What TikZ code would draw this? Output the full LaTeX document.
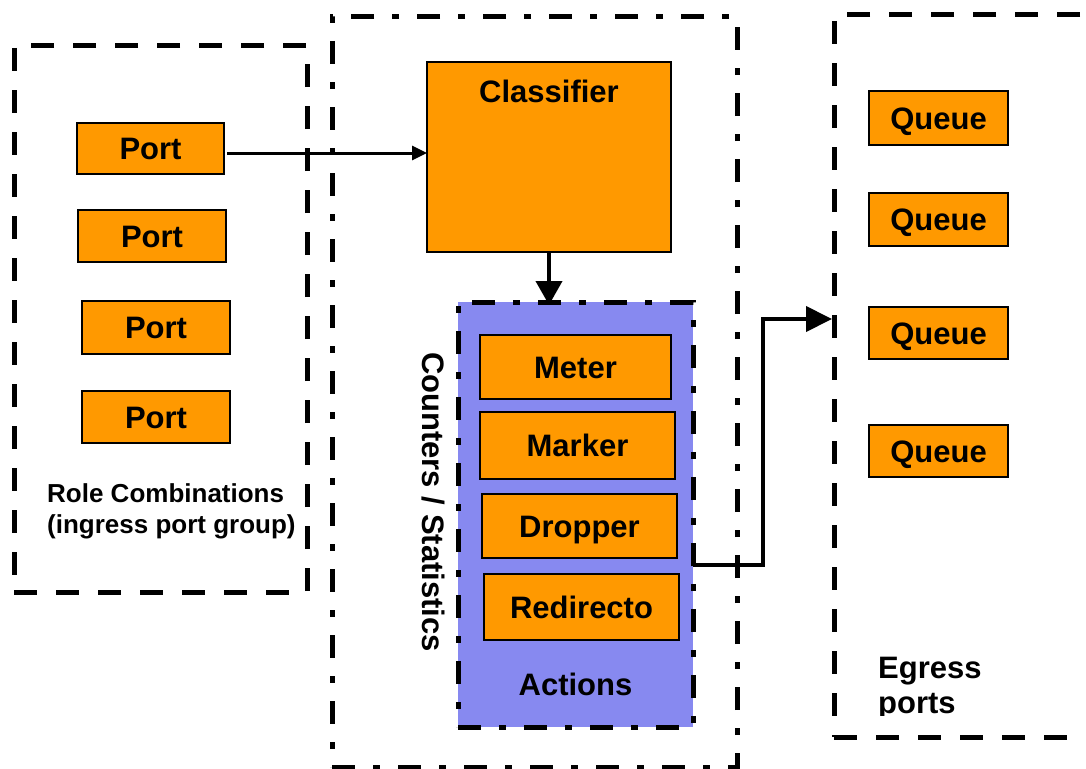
\documentclass[tikz,border=0pt]{standalone}
\usepackage{fontspec}
\setmainfont{Liberation Sans}
\usetikzlibrary{arrows.meta}
\definecolor{boxorange}{RGB}{255,153,0}
\definecolor{actblue}{RGB}{135,137,240}
\begin{document}
\begin{tikzpicture}[x=1pt,y=-1pt,
  box/.style={draw=black, fill=boxorange, line width=1.5pt, inner sep=0pt, outer sep=0pt,
    font=\bfseries\fontsize{31}{36}\selectfont, text height=22.5pt, text depth=0pt},
  dashframe/.style={draw=black, line width=5pt, dash pattern=on 23pt off 19pt,
    inner sep=0pt, outer sep=0pt},
  dotframe/.style={draw=black, line width=5pt, dash pattern=on 23pt off 18pt on 7pt off 18pt,
    inner sep=0pt, outer sep=0pt},
  lbl/.style={font=\bfseries\fontsize{31}{36}\selectfont, inner sep=0pt},
  smalllbl/.style={font=\bfseries\fontsize{26}{31}\selectfont, inner sep=0pt, align=left},
  thinarrow/.style={line width=3pt, -{Triangle[length=15pt,width=14pt]}},
  bigarrow/.style={line width=4pt, -{Triangle[length=24pt,width=26pt]}}]
\useasboundingbox (0,0) rectangle (1086,768);
\clip (0,0) rectangle (1086,768);

% frames
\node[dotframe, minimum width=405pt, minimum height=750pt] (mid) at (534.5,392) {};
\node[dashframe, minimum width=293pt, minimum height=546pt] (ingress) at (160.5,319) {};
\node[dashframe, minimum width=266pt, minimum height=722pt] (egress) at (967,376) {};

% ports
\node[box, minimum width=147pt, minimum height=51pt] (port1) at (150.5,148.5) {Port};
\node[box, minimum width=148pt, minimum height=52pt] (port2) at (152,236) {Port};
\node[box, minimum width=148pt, minimum height=53pt] (port3) at (156,327.5) {Port};
\node[box, minimum width=148pt, minimum height=52pt] (port4) at (156,417) {Port};
\node[smalllbl, anchor=base west] (rolelbl) at (47,533) {Role Combinations\\(ingress port group)};

% classifier
\node[box, minimum width=244pt, minimum height=190pt,
  label={[lbl, name=classlbl, anchor=base, yshift=-40pt]north:Classifier}] (classifier) at (549,157) {};

% actions
\node[dotframe, fill=actblue, minimum width=235pt, minimum height=425pt,
  label={[lbl, name=actlbl, anchor=base, yshift=32pt]south:Actions}] (actions) at (575.5,514.5) {};
\node[box, minimum width=191pt, minimum height=64pt] (meter) at (575.5,367) {Meter};
\node[box, minimum width=195pt, minimum height=67pt] (marker) at (577.5,445.5) {Marker};
\node[box, minimum width=195pt, minimum height=64pt] (dropper) at (579.5,526) {Dropper};
\node[box, minimum width=195pt, minimum height=66pt] (redirect) at (581.5,607) {Redirecto};
\node[lbl, rotate=-90] (counters) at (433,502) {Counters / Statistics};

% queues
\node[box, minimum width=139pt, minimum height=54pt] (q1) at (938.5,118) {Queue};
\node[box, minimum width=139pt, minimum height=53pt] (q2) at (938.5,219.5) {Queue};
\node[box, minimum width=139pt, minimum height=52pt] (q3) at (938.5,333) {Queue};
\node[box, minimum width=139pt, minimum height=52pt] (q4) at (938.5,451) {Queue};
\begin{scope}
  \clip (850,620) rectangle (1080,715);
  \node[lbl, anchor=base west, align=left, font=\bfseries\fontsize{31}{35}\selectfont] (egresslbl) at (878,713) {Egress\\ports};
\end{scope}

% connectors
\draw[thinarrow] ([xshift=3pt,yshift=-4.5pt]port1.east) -- ([yshift=-4.5pt]port1.east -| classifier.west);
\draw[bigarrow] (classifier.south) -- ([yshift=-3pt]classifier.south |- actions.north);
\coordinate (bendlow) at (763,565);
\coordinate (bendhigh) at (763,319);
\draw[line width=4pt, line join=miter, -{Triangle[length=26pt,width=25pt]}]
  (actions.east |- bendlow) -- (bendlow) -- (bendhigh) -- ([xshift=-2pt]egress.west |- bendhigh);
\end{tikzpicture}
\end{document}
